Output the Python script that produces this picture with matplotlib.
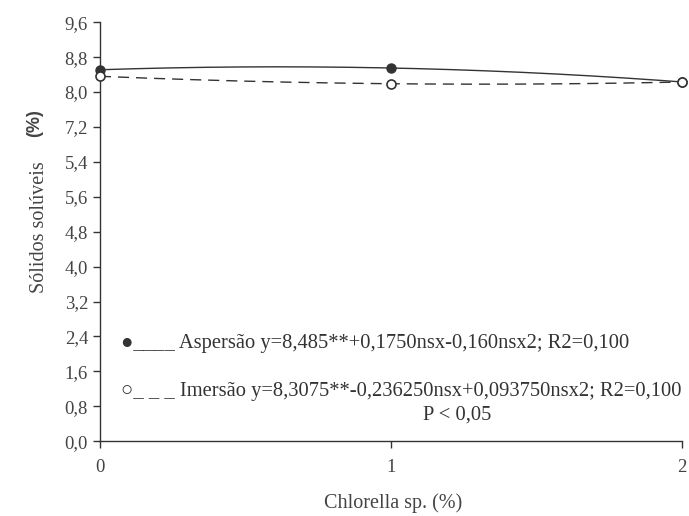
import matplotlib
matplotlib.use('Agg')
import matplotlib.pyplot as plt
import numpy as np

# dados
doses = [0, 1, 2]
aspersao = [8.51, 8.55, 8.23]
imersao = [8.36, 8.19, 8.23]
yticks = [0.0, 0.8, 1.6, 2.4, 3.2, 4.0, 4.8, 5.6, 6.4, 7.2, 8.0, 8.8, 9.6]
ytick_labels = ['0,0', '0,8', '1,6', '2,4', '3,2', '4,0', '4,8', '5,6', '5,4', '7,2', '8,0', '8,8', '9,6']
xtick_labels = ['0', '1', '2']

plt.rcParams['font.family'] = ['Liberation Serif', 'DejaVu Sans']
cor = '#333333'
cor_txt = '#444444'

fig = plt.figure(figsize=(6.89, 5.16), dpi=100)
ax = fig.add_axes([0.145, 0.145, 0.845, 0.812])

# curvas ajustadas (quadraticas) pelos pontos
xx = np.linspace(0, 2, 200)
ca = np.polyfit(doses, aspersao, 2)
ci = np.polyfit(doses, imersao, 2)
ax.plot(xx, np.polyval(ca, xx), color=cor, lw=1.0)
ax.plot(xx, np.polyval(ci, xx), color=cor, lw=1.0, dashes=(8, 5))
ax.plot(doses, aspersao, 'o', color=cor, ms=6.5, clip_on=False, zorder=5)
ax.plot(doses, imersao, 'o', mfc='white', mec=cor, mew=1.2, ms=6.5, clip_on=False, zorder=5)

ax.set_xlim(0, 2)
ax.set_ylim(0, 9.6)
ax.set_xticks(doses)
ax.set_xticklabels(xtick_labels)
ax.set_yticks(yticks)
ax.set_yticklabels(ytick_labels)
ax.spines['top'].set_visible(False)
ax.spines['right'].set_visible(False)
for s in ['left', 'bottom']:
    ax.spines[s].set_color(cor)
    ax.spines[s].set_linewidth(1.0)
ax.tick_params(colors=cor, labelsize=13.5, length=5, width=1.0, direction='out')
ax.tick_params(axis='x', pad=8)
for t in ax.get_xticklabels() + ax.get_yticklabels():
    t.set_color(cor_txt)

fig.text(0.570, 0.024, 'Chlorella sp. (%)', ha='center', va='center', fontsize=14.5, color=cor_txt)
fig.text(0.057, 0.56, 'Sólidos solúveis', rotation=90, ha='center', va='center', fontsize=14.5, color=cor_txt)
fig.text(0.050, 0.761, '(%)', rotation=90, ha='center', va='center', fontsize=13, fontweight='bold',
         family='Liberation Sans', color=cor_txt)

ax.text(0.072, 2.24, '●____ Aspersão y=8,485**+0,1750nsx-0,160nsx2; R2=0,100', fontsize=14.8,
        color=cor, va='center', ha='left')
ax.text(0.072, 1.13, '○_ _ _ Imersão y=8,3075**-0,236250nsx+0,093750nsx2; R2=0,100', fontsize=14.8,
        color=cor, va='center', ha='left')
ax.text(1.227, 0.59, 'P < 0,05', fontsize=14.8, color=cor, va='center', ha='center')

fig.savefig('out.png', dpi=100)
